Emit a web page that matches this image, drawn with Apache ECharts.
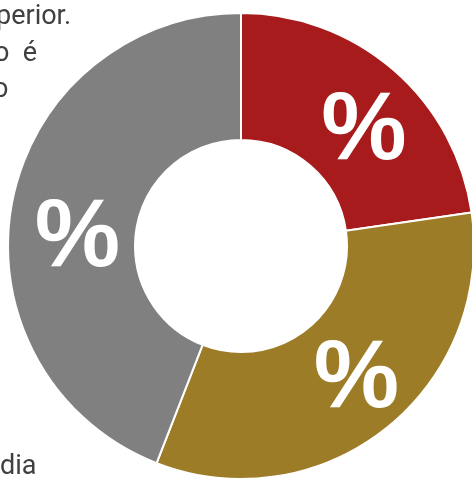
<!DOCTYPE html>
<html>
<head>
<meta charset="utf-8">
<script src="https://cdn.jsdelivr.net/npm/echarts@6/dist/echarts.min.js"></script>
<style>
  html, body { margin: 0; padding: 0; background: #ffffff; }
  #chart { width: 472px; height: 479px; }
</style>
</head>
<body>
<div id="chart"></div>
<script>
// Share of each group (percent), clockwise from 12 o'clock
const categories = ['A', 'B', 'C'];
const shares = [22.7, 33.2, 44.1];
const sliceColors = ['#A81B1C', '#9C7C27', '#808080'];

// Fragments of the surrounding paragraph text
const bodyLines = ['perior.', 'o  é', 'o'];
const footLine = 'dia';

// Nudges for the in-slice labels (px)
const labelNudges = [[10, 17], [8, 0], [6, 25]];

const chart = echarts.init(document.getElementById('chart'), null, { renderer: 'canvas' });

const bodyFont = '27px Roboto, "Noto Sans", sans-serif';
function bodyText(text, x, y) {
  return {
    type: 'text', x: x, y: y, z: -1,
    style: { text: text, fill: '#404040', font: bodyFont, verticalAlign: 'top' }
  };
}

chart.setOption({
  animation: false,
  graphic: [
    bodyText(bodyLines[0], -4, 4),
    bodyText(bodyLines[1], -6, 41),
    bodyText(bodyLines[2], -7, 77),
    bodyText(footLine, 0, 454)
  ],
  series: [{
    type: 'pie',
    center: [241, 246],
    radius: [106, 233],
    startAngle: 90,
    clockwise: true,
    avoidLabelOverlap: false,
    itemStyle: { borderColor: '#ffffff', borderWidth: 2 },
    label: {
      show: true,
      position: 'inside',
      formatter: '%',
      color: '#ffffff',
      fontSize: 96,
      fontWeight: 'bold',
      fontFamily: '"Liberation Sans", Arial, sans-serif'
    },
    labelLine: { show: false },
    emphasis: { disabled: true },
    data: categories.map((name, i) => ({
      name: name,
      value: shares[i],
      itemStyle: { color: sliceColors[i] },
      label: { offset: labelNudges[i] }
    }))
  }]
});
</script>
</body>
</html>
